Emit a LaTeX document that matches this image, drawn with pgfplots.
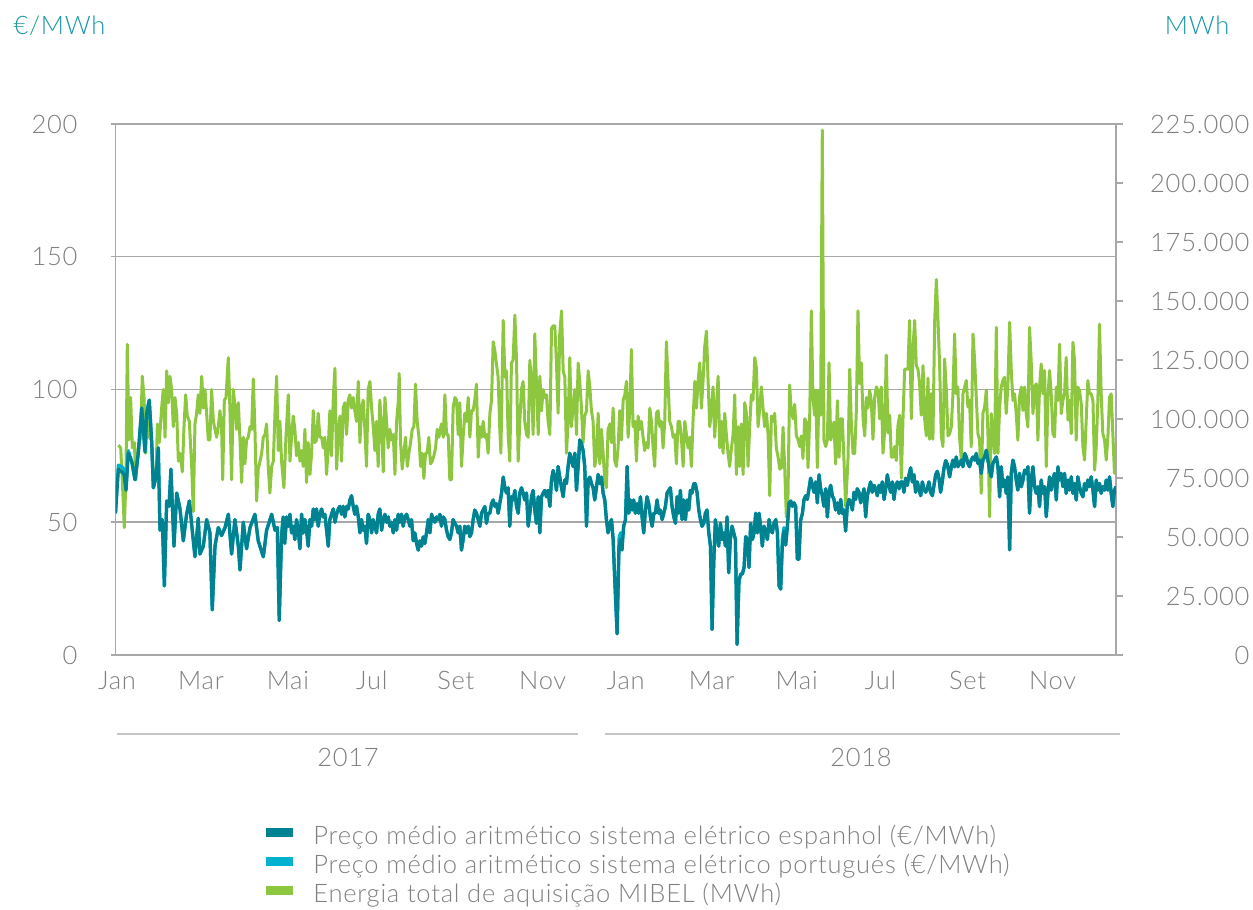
\documentclass[border=0pt]{standalone}
\usepackage{pgfplots}
\usepackage{pgfplotstable}
\pgfplotsset{compat=1.18}
\usepackage{fontspec}
\IfFontExistsTF{Lato Light}{\setmainfont{Lato Light}[LetterSpace=3]}{\setmainfont{Lato}[LetterSpace=3]}

\definecolor{esp}{RGB}{0,130,145}
\definecolor{por}{RGB}{0,178,206}
\definecolor{mibel}{RGB}{141,198,63}
\definecolor{gridgray}{RGB}{168,168,168}
\definecolor{txtgray}{RGB}{128,128,128}
\definecolor{unitteal}{RGB}{26,152,163}

% daily prices (EUR/MWh), day 0 = 1 Jan 2017
\pgfplotstableread{
day es pt
0 53.4 53.4
2.1 70 71.5
4.5 69 71
6.2 68 70
7.7 62 63
9.3 76 77
11.8 73 73
14.2 66 66
16.6 76 76
19.1 93 93
21.5 76.5 76.5
22.7 91 91
24.6 96 96
26.3 81 81
27.6 63 63
29.5 67 67
31.2 78 78
32.4 47 47
34.1 51 51
35.6 26 26
37.3 58 58
39.0 56 56
40.4 70 70
42.6 41 41
44.6 61 61
47.0 55 55
49.4 43 43
51.8 53 53
53.8 58 58
56.7 43 43
57.9 37 37
60.3 51.5 51.5
61.5 38 38
64.0 41 41
66.4 51 51
68.8 46 46
70.5 17 17
72.5 41 41
74.9 48 48
77.3 45 45
79.8 48 48
82.2 53 53
84.6 38 38
87.0 51 51
89.5 41 41
90.7 32 32
93.1 50 50
95.5 40 40
98.0 48 48
101.6 53 53
104.0 43 43
107.7 37 37
110.1 47 47
113.8 53 53
116.2 47 47
117.9 48 48
119.3 13 13
121.0 44.5 46
122.2 52 52
123.4 42 44
124.7 52 52
125.9 48.5 48.5
127.1 53 53
128.3 46 46
129.5 48.5 48.5
130.7 43.5 43.5
131.9 51 51
133.2 47 47
134.4 40 40
135.6 53 53
136.8 46 46
138.0 51 51
139.2 47 47
140.4 41 41
141.7 51 51
142.9 48.5 48.5
144.1 55 55
145.3 51 51
146.5 55 55
147.7 48.5 48.5
148.9 53 53
150.2 55 55
151.4 52 52
152.6 53 53
153.8 47 47
155.0 41 41
156.2 51 51
157.4 53 53
158.7 55 55
159.9 50 50
161.1 53 53
162.3 55 55
163.5 56 56
164.7 53 53
165.9 56 56
167.1 52 52
168.4 56 56
169.6 55 55
170.8 58.4 58.4
172.0 60 60
173.2 56 56
174.4 53 53
175.6 56 56
176.9 52 52
178.1 46 46
179.3 51 51
180.5 47 47
181.7 48.5 48.5
182.9 42 42
184.1 53 53
185.4 51 51
186.6 46 46
187.8 51 51
189.0 48.5 48.5
190.2 46 46
191.4 53 53
192.6 55 55
193.9 47 47
195.1 51 51
196.3 53 53
197.5 50 50
198.7 52 52
199.9 48.5 48.5
201.1 50 50
202.4 46 46
203.6 51 51
204.8 47 47
206.0 53 53
207.2 50 50
208.4 53 53
209.6 48.5 48.5
210.9 52 52
212.1 53 53
213.3 51 51
214.5 48.5 48.5
215.7 51 51
216.9 43 43
218.1 46 46
219.4 42 42
220.6 39.5 39.5
221.8 43 43
223.0 41 41
224.2 44.5 44.5
225.4 42 42
226.6 46 46
227.9 51 51
229.1 46 46
230.3 53 53
231.5 51 51
232.7 50 50
233.9 52 52
235.1 51 51
236.4 53 53
237.5 48.5 48.5
238.8 52 52
240.0 51 51
241.2 47 47
242.4 44.6 44.6
243.6 43.5 43.5
244.8 46 46
246.0 51 51
247.3 49.6 49.6
248.5 48.5 48.5
249.7 46 46
250.9 48.5 48.5
252.1 39.5 39.5
253.3 43.5 43.5
254.5 48.5 48.5
255.8 46 46
257.0 48.5 48.5
258.2 44.6 44.6
259.4 46 46
260.6 51 51
261.8 54.6 54.6
263.0 53.4 53.4
264.3 51 51
265.5 48.5 48.5
266.7 53.4 53.4
267.9 54.6 54.6
269.1 55.9 55.9
270.3 49.6 49.6
271.5 53.4 53.4
272.8 53.4 53.4
274.0 57 57
275.2 58.4 58.4
276.4 56 56
277.6 57 57
278.8 53.4 53.4
280.0 57 57
281.3 61 61
282.5 67 67
283.7 63 63
284.9 61 61
286.1 63 63
287.3 48.5 48.5
288.5 59.6 59.6
289.7 58.4 58.4
291.0 62 62
292.2 56 56
293.4 53.4 53.4
294.6 61 61
295.8 63 63
297.0 61 61
298.2 58.4 58.4
299.5 61 61
300.7 48.5 48.5
301.9 53.4 53.4
303.1 59.6 59.6
304.3 62 62
305.5 54.6 54.6
306.7 49.6 49.6
308.0 59.6 59.6
309.2 46 46
310.4 59.6 59.6
311.6 61 61
312.8 62 62
314.0 59.6 59.6
315.2 62 62
316.5 56 56
317.7 66 66
318.9 69.5 69.5
320.1 67 67
321.3 62 62
322.5 71 71
323.7 67 67
325.0 63 63
326.2 59.6 59.6
327.4 66 66
328.6 64.6 64.6
329.8 71 71
331.0 76 76
332.2 73.5 73.5
333.4 71 71
334.7 76 76
335.9 62 62
337.1 71 71
338.3 81 81
339.5 79.6 79.6
340.7 77 77
341.9 71 71
343.2 48.5 48.5
344.4 66 66
345.6 67 67
346.8 64.6 64.6
348.0 63 63
349.2 58.4 58.4
350.4 63 63
351.7 68 68
352.9 64.6 64.6
354.1 67 67
355.3 61 61
356.5 58.4 58.4
357.7 51 51
358.9 46 46
360.2 49.6 49.6
361.4 51 51
362.6 43.5 43.5
363.8 28 28
365.5 8 8
366.9 41 44
367.9 43.5 46
369.1 39.5 43
370.3 48.5 48.5
371.6 51 51
372.8 71 71
374.0 53.4 53.4
375.2 58.4 58.4
376.4 54.6 54.6
377.6 58.4 58.4
378.8 53.4 53.4
380.1 57 57
381.3 53.4 53.4
382.5 59.6 59.6
383.7 52 52
384.9 46 46
386.1 54.6 54.6
387.3 59.6 59.6
388.5 57 57
389.8 52 52
391.0 48.5 48.5
392.2 53.4 53.4
393.4 53.4 53.4
394.6 58.4 58.4
395.8 53.4 53.4
397.0 54.6 54.6
398.3 51 51
399.5 53.4 53.4
400.7 56 56
401.9 61 61
403.1 62 62
404.3 63 63
405.5 56 56
406.8 52 52
408.0 49.6 49.6
409.2 59.6 59.6
410.4 53.4 53.4
411.6 62 62
412.8 51 51
414.0 58.4 58.4
415.3 51 51
416.5 58.4 58.4
417.7 54.6 54.6
418.9 62 62
420.1 61 61
421.3 64.5 64.5
422.5 64.5 64.5
423.8 61 61
425.0 54.6 54.6
426.2 51 51
427.4 48.5 48.5
428.6 49.6 49.6
429.8 53.4 53.4
431.0 54.6 54.6
432.3 46 46
433.5 41 41
434.7 9.6 9.6
435.9 34.6 34.6
437.1 51 51
438.3 46 46
439.5 41 41
440.8 49.6 49.6
442.0 43.5 43.5
443.2 46 46
444.4 41 41
445.6 52 52
446.8 31 31
448.0 43.5 43.5
449.2 48.5 48.5
450.5 46 46
451.7 43.5 43.5
452.9 4 4
454.3 28 28
455.6 30.5 30.5
456.8 30.5 30.5
458.0 33 33
459.2 44.6 44.6
460.4 43.5 43.5
461.6 33 33
462.8 49.6 49.6
464.1 43.5 43.5
465.3 46 46
466.5 53.4 53.4
467.7 46 46
468.9 53.4 53.4
470.1 48.5 48.5
471.3 41 41
472.6 48.5 48.5
473.8 46 46
475.0 43.5 43.5
476.2 51 51
477.4 47 47
478.6 46 46
479.8 49.6 49.6
481.1 51 51
482.3 46 46
483.5 26 26
484.7 24.8 24.8
485.9 41.4 44
487.1 46.7 48
488.3 41.4 41.4
489.5 48.0 48.0
490.8 57.3 57.3
492.0 58.0 58.0
493.2 56.0 56.0
494.4 57.3 57.3
495.6 56.0 56.0
496.8 36.1 36.1
498.0 36.1 36.1
499.2 50.7 50.7
500.5 53.3 53.3
501.7 58.6 58.6
502.9 60.0 60.0
504.1 58.6 58.6
505.3 62.6 62.6
506.5 66.6 66.6
507.7 63.9 63.9
509.0 61.3 61.3
510.2 65.2 65.2
511.4 57.3 57.3
512.6 67.9 67.9
513.8 62.6 62.6
515.0 60.0 60.0
516.2 56.0 56.0
517.5 62.6 62.6
518.7 52.0 52.0
519.9 61.3 61.3
521.1 63.9 63.9
522.3 60.0 60.0
523.5 58.6 58.6
524.7 54.6 54.6
526.0 57.3 57.3
527.2 53.3 53.3
528.4 58.6 58.6
529.6 53.3 53.3
530.8 54.6 54.6
532.0 46.7 46.7
533.2 56.0 56.0
534.5 58.6 58.6
535.7 57.3 57.3
536.9 54.6 54.6
538.1 61.3 61.3
539.3 58.6 58.6
540.5 62.6 62.6
541.7 61.3 61.3
543.0 57.3 57.3
544.2 60.0 60.0
545.4 62.6 62.6
546.6 52.0 52.0
547.8 60.0 60.0
549.0 62.6 62.6
550.2 65.2 65.2
551.4 61.3 61.3
552.7 63.9 63.9
553.9 62.6 62.6
555.1 60.0 60.0
556.3 63.9 63.9
557.5 61.3 61.3
558.7 65.2 65.2
560.0 58.6 58.6
561.2 62.6 62.6
562.4 67.9 67.9
563.6 63.9 63.9
564.8 61.3 61.3
566.0 65.2 65.2
567.2 58.6 58.6
568.5 63.9 63.9
569.7 65.2 65.2
570.9 62.6 62.6
572.1 65.2 65.2
573.3 65.2 65.2
574.5 61.3 61.3
575.7 66.6 66.6
577.0 63.9 63.9
578.2 67.9 67.9
579.4 70.5 70.5
580.6 65.2 65.2
581.8 67.9 67.9
583.0 61.3 61.3
584.2 65.2 65.2
585.4 62.6 62.6
586.7 60.0 60.0
587.9 65.2 65.2
589.1 62.6 62.6
590.3 61.3 61.3
591.5 62.6 62.6
592.7 65.2 65.2
593.9 61.3 61.3
595.2 60.0 60.0
596.4 63.9 63.9
597.6 67.9 67.9
598.8 69.2 69.2
600.0 66.6 66.6
601.2 61.3 61.3
602.4 65.2 65.2
603.7 70.5 70.5
604.9 73.2 73.2
606.1 71.9 71.9
607.8 67.1 67.1
609.0 70.9 70.9
610.2 73.4 73.4
611.4 70.9 70.9
612.6 74.6 74.6
613.8 70.9 70.9
615.0 72.1 72.1
616.3 73.4 73.4
617.5 70.9 70.9
618.7 75.9 75.9
619.9 74.6 74.6
621.1 72.1 72.1
622.3 70.9 70.9
623.5 73.4 73.4
624.8 74.6 74.6
626.0 73.4 73.4
627.2 75.9 75.9
628.4 72.1 72.1
629.6 73.4 73.4
630.8 68.4 68.4
632.0 73.4 73.4
633.3 74.6 74.6
634.5 77.1 77.1
635.7 73.4 73.4
636.9 69.6 69.6
638.1 67.1 67.1
639.3 72.1 72.1
640.5 73.4 73.4
641.8 74.6 74.6
643.0 70.9 70.9
644.2 59.6 59.6
645.4 70.9 70.9
646.6 63.4 63.4
647.8 65.9 65.9
649.0 60.9 60.9
650.2 67.1 67.1
651.5 39.6 39.6
652.7 68.4 68.4
653.9 73.4 73.4
655.1 70.9 70.9
656.3 65.9 65.9
657.5 62.1 62.1
658.7 68.4 68.4
660.0 63.4 63.4
661.2 65.9 65.9
662.4 69.6 69.6
663.6 68.4 68.4
664.8 70.9 70.9
666.0 53.4 53.4
667.2 65.9 65.9
668.5 70.9 70.9
669.7 63.4 63.4
670.9 60.9 60.9
672.1 63.4 63.4
673.3 55.9 55.9
674.5 65.9 65.9
675.7 60.9 60.9
677.0 63.4 63.4
678.2 52.1 52.1
679.4 60.9 60.9
680.6 67.1 67.1
681.8 62.1 62.1
683.0 65.9 65.9
684.2 68.4 68.4
685.5 58.4 58.4
686.7 70.9 70.9
687.9 65.9 65.9
689.1 68.4 68.4
690.3 63.4 63.4
691.5 68.4 68.4
692.7 60.9 60.9
694.0 65.9 65.9
695.2 62.1 62.1
696.4 67.1 67.1
697.6 60.9 60.9
698.8 64.6 64.6
700.0 58.4 58.4
701.2 67.1 67.1
702.4 63.4 63.4
703.7 60.9 60.9
704.9 59.6 59.6
706.1 64.6 64.6
707.3 62.1 62.1
708.5 65.9 65.9
709.7 63.4 63.4
710.9 67.1 67.1
712.2 62.1 62.1
713.4 55.9 55.9
714.6 65.9 65.9
715.8 62.1 62.1
717.0 64.6 64.6
718.2 60.9 60.9
719.4 63.4 63.4
720.7 62.1 62.1
721.9 65.9 65.9
723.1 62.1 62.1
724.3 67.1 67.1
725.5 60.9 60.9
726.7 55.9 55.9
727.9 62.1 62.1
729.0 63.4 63.4
}\precos

% daily MIBEL purchase energy (MWh)
\pgfplotstableread{
day mwh
2.1 88900
3.8 87750
5.2 70900
6.4 54000
7.6 74250
8.6 131600
9.8 91100
11.0 109100
12.3 87750
13.7 90000
14.9 74250
16.6 87750
18.3 92250
19.5 118100
20.8 109100
22.0 85500
23.2 102400
24.6 92250
26.3 91100
27.6 70900
29.5 75400
30.5 97900
31.9 90000
33.6 104600
34.8 112500
36.1 92250
37.3 120400
38.5 106900
39.7 118100
40.9 112500
42.1 96750
43.3 109100
44.6 102400
45.8 82100
47.0 85500
48.7 77600
49.9 96750
51.1 110250
52.3 101250
53.8 99000
55.5 79900
56.7 60750
57.9 97900
59.1 102400
60.3 110250
61.5 102400
62.8 118100
64.0 104600
65.2 112500
66.4 102400
67.6 91100
68.8 91100
70.0 112500
71.3 99000
72.5 95600
73.7 92250
74.9 96750
76.1 103500
77.3 96750
78.1 74250
79.3 108000
80.5 109100
82.2 126000
83.4 103500
84.6 74250
85.8 112500
87.0 105750
88.3 95600
89.5 106900
90.7 91100
91.9 73100
93.1 92250
94.3 81000
95.5 91100
96.7 92250
98.0 96750
99.2 95600
100.4 117000
101.6 95600
102.8 65250
104.0 78750
105.3 82100
106.5 85500
107.7 92250
108.9 93400
110.1 97900
111.3 79900
112.5 68600
113.8 79900
115.0 82100
116.2 102400
117.4 118100
118.6 86600
119.8 99000
121.0 82100
122.7 70900
124.2 92250
125.9 110250
127.1 82100
128.3 92250
129.5 101250
130.7 95600
131.9 84400
133.2 90000
134.4 82100
135.6 86600
136.8 79900
138.0 95600
139.2 73100
140.4 90000
141.7 76500
142.9 85500
144.1 103500
145.3 90000
146.5 91100
147.7 102400
148.9 92250
150.2 92250
151.4 87750
152.6 92250
153.8 76500
155.0 87750
156.2 103500
157.4 84400
158.7 109100
159.9 121500
161.1 78750
162.3 93400
163.5 101250
164.7 82100
165.9 104600
167.1 106900
168.4 93400
169.6 108000
170.8 110250
172.0 104600
173.2 109100
174.4 103500
175.6 99000
176.9 115900
178.1 90000
179.3 104600
180.5 108000
181.7 95600
182.9 79900
184.1 112500
185.4 115900
186.6 104600
187.8 96750
189.0 86600
190.2 99000
191.4 79900
192.6 108000
193.9 96750
195.1 77600
196.3 109100
197.5 99000
198.7 87750
199.9 95600
201.1 91100
202.4 93400
203.6 76500
204.8 99000
206.0 106900
206.7 119250
207.7 90000
208.9 78750
210.1 85500
211.3 92250
212.6 79900
213.8 85500
215.0 90000
216.2 95600
217.4 96750
218.6 114750
219.8 99000
221.1 92250
222.3 79900
223.5 85500
224.7 74800
225.9 85500
227.1 85500
228.3 92250
229.5 81000
230.8 82100
232.0 84400
233.2 87750
234.4 95600
235.6 92250
237.5 97900
238.8 92250
240.0 110250
241.2 93400
242.4 93400
243.6 74250
244.8 74250
246.0 104600
247.3 109100
248.5 108000
249.7 93400
250.9 106900
252.1 79900
253.3 92250
254.5 102400
255.8 99000
257.0 109100
258.2 92250
259.4 103500
260.6 103500
261.8 108000
263.0 114750
264.3 83800
265.5 96750
266.7 92250
267.9 99000
269.1 92250
270.3 93400
271.5 85500
272.8 102400
274.0 108000
275.2 132750
276.4 128900
277.6 123300
278.8 117700
280.0 95600
280.8 85500
282.5 141750
283.7 117700
284.9 120400
286.1 93400
287.3 82100
288.5 123750
289.7 124900
291.0 144000
292.2 124900
293.4 82100
294.6 99000
295.8 112500
297.0 115900
298.2 99000
299.5 93400
300.7 92250
301.9 124900
303.1 115900
304.3 93400
305.5 136100
306.7 115900
308.0 93400
309.2 118100
310.4 103500
311.6 112500
312.8 109100
314.0 110250
315.2 99000
316.5 93400
317.7 138400
318.9 139500
320.1 139500
321.3 123750
322.5 102400
323.7 136100
325.0 145800
326.2 120400
327.4 117700
328.6 85500
329.8 99000
331.0 126000
332.2 96750
333.4 104600
334.7 112500
335.9 93400
337.1 123750
338.3 115900
339.5 104600
340.7 90000
341.9 101250
343.2 103500
344.4 120400
345.6 113600
346.8 103500
348.0 99000
349.2 79900
350.4 84400
351.7 102400
352.9 81000
354.1 95600
355.3 85500
356.5 74250
357.7 70900
358.9 95600
360.2 97900
361.4 90000
362.6 104600
363.8 82100
365.0 79900
366.2 87750
367.4 103500
368.6 91100
369.9 108000
371.1 110250
372.3 115900
373.5 92250
374.7 103500
375.9 129400
377.1 96750
378.4 99000
379.6 82100
380.8 101250
382.0 95600
383.2 99000
384.4 92250
385.6 86600
386.8 90000
388.1 87750
389.3 104600
390.5 99000
391.7 87750
392.9 79900
394.1 102400
395.3 103500
396.6 96750
397.8 99000
399.0 87750
400.2 99000
401.4 132750
402.6 115900
403.8 99000
405.1 96750
406.3 92250
407.5 93400
408.7 81000
409.9 99000
411.1 99000
412.3 92250
413.6 79900
414.8 99000
416.0 93400
417.2 87750
418.4 92250
419.6 79900
420.8 99000
422.1 115900
423.3 104600
424.5 115900
425.7 123750
426.9 104600
428.1 115900
429.3 130500
430.6 137250
431.8 115900
433.0 96750
434.2 103500
435.4 113600
436.6 92250
437.8 104600
439.1 118100
440.3 87750
441.5 99000
442.7 85500
443.9 102400
445.1 93400
446.3 85500
447.5 79900
448.8 87750
450.0 93400
451.2 110250
452.4 76500
453.6 96750
454.8 79900
456.0 97900
457.3 76500
458.5 106900
459.7 102400
460.9 79900
462.1 96750
463.3 110250
464.5 108000
465.8 126000
467.0 121500
468.2 96750
469.4 104600
470.6 113600
471.8 104600
473.0 96750
474.3 102400
475.5 93400
476.7 67500
477.9 101250
479.1 99000
480.3 102400
481.5 87750
482.8 83800
484.0 78750
485.2 79400
486.4 96500
487.6 79400
488.8 58500
490.0 67500
491.2 114400
492.4 103200
493.7 100100
494.9 106200
496.1 92800
497.3 91400
498.5 88300
499.7 92800
500.9 83250
502.2 100100
503.4 98700
504.6 79400
505.8 100100
507.0 145800
508.2 109100
509.4 101600
510.2 112200
511.4 79400
512.6 112200
513.8 101600
515.0 222400
516.2 91100
517.5 88300
518.7 91100
519.9 123750
521.1 91100
522.3 94100
523.5 98700
524.7 80900
526.0 107700
527.2 83800
528.4 100100
529.6 100100
530.8 82400
532.0 63000
533.7 82400
535.0 121100
536.2 97200
537.4 85300
538.6 85300
539.8 103200
541.0 145800
542.2 115100
543.4 123750
544.7 100100
545.9 92800
547.1 109100
548.3 104600
549.5 112200
550.7 107700
551.9 91400
553.2 109100
554.4 113600
555.6 112200
556.8 100100
558.0 113600
559.2 85500
560.4 94100
561.6 127100
562.9 94100
564.1 101600
565.3 83800
566.5 83800
567.7 88300
568.9 82400
570.1 97200
571.4 101600
572.6 74900
573.8 100100
575.0 121100
576.2 121100
577.4 121100
578.6 141750
579.9 100100
581.1 130100
582.3 141750
583.5 122600
584.7 121100
585.9 115100
587.1 101600
588.4 122600
589.6 100100
590.8 92800
592.0 117300
593.2 91400
594.4 110700
595.6 91400
596.9 141750
598.1 159100
599.3 141750
600.5 122600
601.7 92800
602.9 88300
604.1 125400
605.4 112200
606.6 92800
607.8 93800
609.0 96600
610.2 110700
611.4 136000
612.6 110700
613.8 113500
615.0 92400
616.3 82600
617.5 110700
618.7 113500
619.9 116300
621.1 105100
622.3 107900
623.5 88200
624.8 136000
626.0 124800
627.2 109200
628.4 93800
629.6 91000
630.8 68500
632.0 102300
633.3 105100
634.5 112100
635.7 93800
636.9 58600
638.1 102300
639.3 93800
640.5 85400
641.8 138800
643.0 85400
644.2 105100
645.4 113500
646.6 116300
647.8 117700
649.0 102300
650.2 113500
651.5 141000
652.7 120500
653.9 107900
655.1 110700
656.3 102300
657.5 91000
658.7 109200
660.0 113500
661.2 103600
662.4 113500
663.6 102300
664.8 96600
666.0 138800
667.2 124800
668.5 102300
669.7 113500
670.9 114900
672.1 91000
673.3 113500
674.5 123300
675.7 110700
677.0 120500
678.2 79800
679.4 109200
680.6 120500
681.8 110700
683.0 93800
684.2 92400
685.5 113500
686.7 107900
687.9 131700
689.1 102300
690.3 107900
691.5 110700
692.7 126100
694.0 99500
695.2 107900
696.4 93800
697.6 132500
698.8 124800
700.0 91000
701.2 113500
702.4 112100
703.7 106400
704.9 88200
706.1 82600
707.3 99500
708.5 116300
709.7 110700
710.9 110700
712.2 107900
713.4 78300
714.6 88200
715.8 107900
717.0 140200
718.2 110700
719.4 93800
720.7 91000
721.9 82600
723.1 92400
724.3 109200
725.5 110700
726.7 93800
727.9 77000
729.0 79800
}\energia

\pgfplotsset{
  base/.style={
    scale only axis, width=400.2pt, height=212.4pt,
    at={(46.2pt,102pt)}, anchor=south west,
    xmin=0, xmax=729,
    tick label style={font=\fontsize{10.2}{12}\selectfont, text=txtgray,
      /pgf/number format/assume math mode=true},
    axis line style={gridgray, line width=0.6pt},
    every tick/.style={gridgray, line width=0.6pt},
    tick align=outside,
    every axis plot/.append style={line join=round},
  }
}

\begin{document}
\begin{tikzpicture}
\path[use as bounding box] (0,0) rectangle (501.2pt,364pt);

% energy, right axis (drawn first so the prices lie on top)
\begin{axis}[base,
  axis x line=none, axis y line*=right,
  ymin=0, ymax=225000,
  ytick={0,25000,...,225000},
  scaled y ticks=false,
  major tick length=2.8pt,
  yticklabel style={anchor=east, inner sep=0pt, xshift=50.8pt,
    /pgf/number format/fixed, /pgf/number format/1000 sep={.}},
  extra y ticks={56250,112500,168750,225000},
  extra y tick labels={},
  extra y tick style={grid=major, major tick length=0pt,
    major grid style={gridgray, line width=0.6pt}},
]
\addplot[mibel, line width=1.2pt] table[x=day, y=mwh] {\energia};
\end{axis}

% prices, left axis
\begin{axis}[base,
  axis x line*=bottom, axis y line*=left,
  ymin=0, ymax=200, ytick={0,50,...,200},
  major tick length=2pt,
  xtick={1.1,62.3,125.6,186.8,248.0,311.3,371.8,434.4,496.3,557.5,620.9,682.8},
  xticklabels={Jan,Mar,Mai,Jul,Set,Nov,Jan,Mar,Mai,Jul,Set,Nov},
  x tick style={draw=none},
  xticklabel style={anchor=base, inner sep=0pt, yshift=-12pt},
  yticklabel style={anchor=east, inner sep=0pt, xshift=-13pt},
  legend style={at={(axis description cs:0.1504,-0.318)}, anchor=north west,
    draw=none, fill=none, inner sep=0pt, row sep=0pt,
    nodes={inner sep=0pt, text height=8pt, text depth=3.6pt,
      font=\fontsize{10.2}{12}\selectfont, text=txtgray},
    /tikz/every odd column/.append style={column sep=8pt}},
  legend cell align=left,
  legend image code/.code={\path[#1] (0pt,0.6pt) rectangle (10.8pt,4.4pt);},
]
\addlegendimage{fill=esp, draw=none}
\addlegendentry{Preço médio aritmético sistema elétrico espanhol (€/MWh)}
\addlegendimage{fill=por, draw=none}
\addlegendentry{Preço médio aritmético sistema elétrico portugués (€/MWh)}
\addlegendimage{fill=mibel, draw=none}
\addlegendentry{Energia total de aquisição MIBEL (MWh)}
\addplot[por, line width=1.3pt, forget plot] table[x=day, y=pt] {\precos};
\addplot[esp, line width=1.3pt, forget plot] table[x=day, y=es] {\precos};
\end{axis}

% units and years
\node[anchor=base west, inner sep=0pt, text=unitteal, font=\fontsize{10.2}{12}\selectfont]
  at (5.2pt,350.3pt) {€/MWh};
\node[anchor=base east, inner sep=0pt, text=unitteal, font=\fontsize{10.2}{12}\selectfont]
  at (492pt,350.3pt) {MWh};
\draw[gray!45, line width=0.6pt] (46.7pt,70.4pt) -- (231.2pt,70.4pt);
\draw[gray!45, line width=0.6pt] (242pt,70.4pt) -- (448pt,70.4pt);
\node[anchor=base, inner sep=0pt, text=txtgray, font=\fontsize{10.2}{12}\selectfont]
  at (139.2pt,57.2pt) {2017};
\node[anchor=base, inner sep=0pt, text=txtgray, font=\fontsize{10.2}{12}\selectfont]
  at (344.4pt,57.2pt) {2018};
\end{tikzpicture}
\end{document}
